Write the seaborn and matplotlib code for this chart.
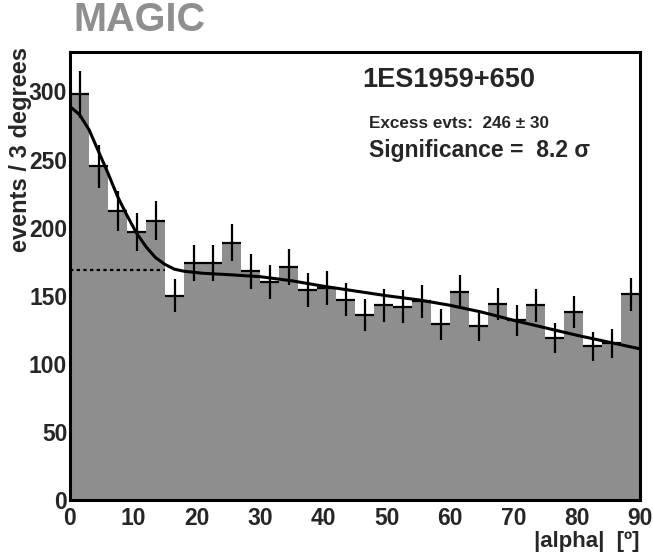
"""
MAGIC |alpha| distribution for 1ES1959+650 with fitted signal + background.
"""

import numpy as np
import pandas as pd
import matplotlib
matplotlib.use("Agg")
import matplotlib.pyplot as plt
from matplotlib.ticker import MultipleLocator
import seaborn as sns

# --- data ----------------------------------------------------------------
bin_edges = [0, 3, 6, 9, 12, 15, 18, 21, 24, 27, 30, 33, 36, 39, 42, 45,
             48, 51, 54, 57, 60, 63, 66, 69, 72, 75, 78, 81, 84, 87, 90]
counts = [298, 245, 212, 197, 205, 150, 174, 174, 189, 168,
          160, 171, 154, 156, 147, 136, 143, 142, 146, 129,
          153, 128, 144, 132, 143, 119, 138, 113, 115, 151]

# fitted curve (gaussian + background)
fit_alpha = [0, 1.5, 3, 4.5, 6, 7.5, 9, 10.5, 12, 13.5, 15, 16.5, 18, 21,
             25, 30, 35, 40, 45, 50, 55, 60, 65, 70, 75, 80, 85, 90]
fit_counts = [289, 283, 272, 256, 240, 223, 209, 196, 186, 178, 173, 169.5,
              168, 166.5, 165.5, 164, 161, 157, 153.5, 150, 147, 143,
              138, 132, 126.5, 121, 116, 111]

# background level extrapolated under the signal region
bg_alpha = [0, 15]
bg_level = [169, 169]

x_ticks = [0, 10, 20, 30, 40, 50, 60, 70, 80, 90]
y_ticks = [0, 50, 100, 150, 200, 250, 300]

source_name = "1ES1959+650"
excess_text = "Excess evts:  246 \u00b1 30"
signif_text = "Significance =  8.2 \u03c3"

# --- plotting ------------------------------------------------------------
sns.set_style("white")
plt.rcParams["font.family"] = ["Liberation Sans", "DejaVu Sans"]
plt.rcParams["font.weight"] = "bold"

centers = [0.5 * (a + b) for a, b in zip(bin_edges[:-1], bin_edges[1:])]
df = pd.DataFrame({"alpha": centers, "n": counts})

fig = plt.figure(figsize=(6.53, 5.6), dpi=100)
ax = fig.add_axes([70 / 653, 60 / 560, 570 / 653, 448 / 560])

sns.histplot(data=df, x="alpha", weights="n", bins=bin_edges, stat="count",
             element="bars", fill=True, color="#8e8e8e", alpha=1.0,
             linewidth=0, ax=ax)

ax.errorbar(df["alpha"], df["n"], yerr=np.sqrt(df["n"]), xerr=1.5,
            fmt="none", ecolor="black", elinewidth=1.6, capsize=0)

sns.lineplot(x=fit_alpha, y=fit_counts, color="black", linewidth=2.2,
             ax=ax)
ax.plot(bg_alpha, bg_level, color="black", linestyle=(0, (1.5, 1.5)),
        linewidth=1.6)

ax.set_xlim(0, 90)
ax.set_ylim(0, 329)
ax.set_xticks(x_ticks)
ax.set_yticks(y_ticks)
ax.xaxis.set_minor_locator(MultipleLocator(2))
ax.yaxis.set_minor_locator(MultipleLocator(10))
ax.tick_params(axis="both", which="major", direction="in", length=9,
               width=1.5, labelsize=16.5, top=False, right=False)
ax.tick_params(axis="both", which="minor", direction="in", length=5,
               width=1.2, top=False, right=False)
ax.tick_params(axis="x", which="major", pad=5)
ax.tick_params(axis="y", which="major", pad=2)
for lab in ax.get_xticklabels() + ax.get_yticklabels():
    lab.set_fontweight("bold")
ax.set_xlabel("")
ax.set_ylabel("")
for side in ax.spines.values():
    side.set_linewidth(2.2)
    side.set_color("black")

# texts
fig.text(73 / 653, 1 - 20 / 560, "MAGIC", fontsize=28.5, fontweight="bold",
         color="#8f8f8f", ha="left", va="center")
fig.text(21 / 653, 1 - 150 / 560, "events / 3 degrees", rotation=90,
         fontsize=17, fontweight="bold", ha="center", va="center")
fig.text(640 / 653, 1 - 542 / 560, "|alpha|  [\u00ba]", fontsize=16,
         fontweight="bold", ha="right", va="center")
fig.text(362 / 653, 1 - 80 / 560, source_name, fontsize=19.5,
         fontweight="bold", ha="left", va="center")
fig.text(369 / 653, 1 - 123 / 560, excess_text, fontsize=12.3,
         fontweight="bold", ha="left", va="center")
fig.text(369 / 653, 1 - 151 / 560, signif_text, fontsize=16.5,
         fontweight="bold", ha="left", va="center")

fig.savefig("out.png", dpi=100)
